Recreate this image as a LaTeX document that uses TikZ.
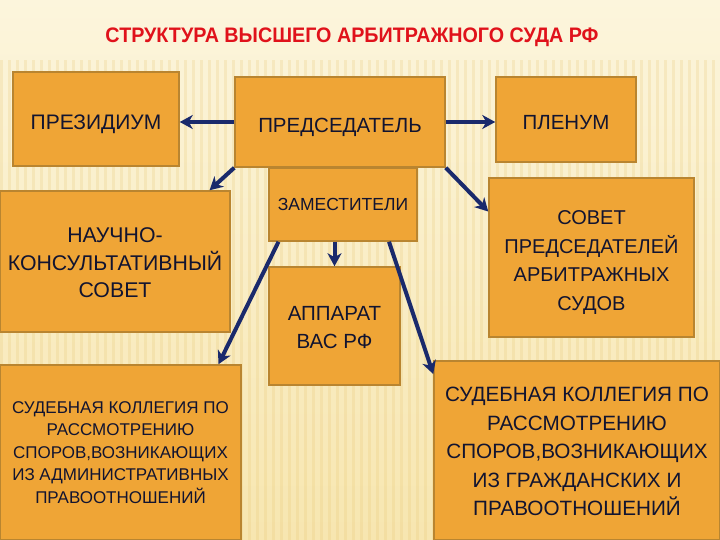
\documentclass[tikz,border=0pt]{standalone}
\usepackage{fontspec}
\setmainfont{Liberation Sans}
\usetikzlibrary{arrows.meta}
\definecolor{boxfill}{HTML}{EFA536}
\definecolor{boxline}{HTML}{B98530}
\definecolor{txt}{HTML}{121430}
\definecolor{arr}{HTML}{1A2A6C}
\definecolor{ttl}{HTML}{E0121B}
\definecolor{bgtop}{HTML}{FCF5DC}
\definecolor{bgbot}{HTML}{F7E6B0}
\definecolor{stripe}{HTML}{E6C46E}
\begin{document}
\begin{tikzpicture}[x=1pt,y=-1pt,
  box/.style={draw=boxline, line width=1.5pt, fill=boxfill, text=txt, align=center, inner sep=0pt},
  oneline/.style={text height=21pt, text depth=0pt},
  link/.style={draw=arr, line width=4pt, -{Stealth[length=13pt,width=14pt,inset=4pt]}}]
\useasboundingbox (0,0) rectangle (720,540);
\shade[top color=bgtop, bottom color=bgbot] (0,0) rectangle (720,540);
\foreach \i in {0,8,...,720} \fill[stripe, opacity=0.22] (\i,60) rectangle (\i+3,540);

\node[text=ttl, font=\bfseries\fontsize{21}{22}\selectfont] (title) at (352,37)
  {\resizebox{493pt}{\height}{СТРУКТУРА ВЫСШЕГО АРБИТРАЖНОГО СУДА РФ}};

\node[box, oneline, minimum width=166pt, minimum height=94pt, font=\fontsize{21}{24}\selectfont] (prez) at (96,119) {ПРЕЗИДИУМ};
\node[box, oneline, minimum width=210pt, minimum height=90pt, font=\fontsize{20.5}{24}\selectfont] (pred) at (340,122) {ПРЕДСЕДАТЕЛЬ};
\node[box, oneline, minimum width=140pt, minimum height=85pt, font=\fontsize{20.5}{24}\selectfont] (plen) at (566,119.5) {ПЛЕНУМ};
\node[box, minimum width=148pt, minimum height=73pt, font=\fontsize{17.5}{20}\selectfont] (zam) at (343,204.5) {ЗАМЕСТИТЕЛИ};
\node[box, minimum width=230pt, minimum height=141pt, font=\fontsize{21.3}{27.5}\selectfont] (nauch) at (115,261.5) {\rule{0pt}{18pt}НАУЧНО-\\КОНСУЛЬТАТИВНЫЙ\\СОВЕТ};
\node[box, minimum width=131pt, minimum height=118pt, font=\fontsize{20.5}{28}\selectfont] (app) at (334.5,326) {\rule{0pt}{18pt}АППАРАТ\\ВАС РФ};
\node[box, minimum width=205pt, minimum height=159pt, font=\fontsize{20}{28.6}\selectfont] (sovet) at (591.5,257.5) {\rule{0pt}{24pt}СОВЕТ\\ПРЕДСЕДАТЕЛЕЙ\\АРБИТРАЖНЫХ\\СУДОВ};
\node[box, minimum width=241pt, minimum height=175pt, font=\fontsize{17}{22.5}\selectfont] (sud1) at (120.5,452.5) {СУДЕБНАЯ КОЛЛЕГИЯ ПО\\РАССМОТРЕНИЮ\\СПОРОВ,ВОЗНИКАЮЩИХ\\ИЗ АДМИНИСТРАТИВНЫХ\\ПРАВООТНОШЕНИЙ};
\node[box, minimum width=286pt, minimum height=179pt, font=\fontsize{20.7}{28.5}\selectfont] (sud2) at (577,450.5) {\rule{0pt}{17pt}СУДЕБНАЯ КОЛЛЕГИЯ ПО\\РАССМОТРЕНИЮ\\СПОРОВ,ВОЗНИКАЮЩИХ\\ИЗ ГРАЖДАНСКИХ И\\ПРАВООТНОШЕНИЙ};

\draw[link] (pred.west) -- (pred.west -| prez.east);
\draw[link] (pred.east) -- (pred.east -| plen.west);
\draw[link] (pred.south west) -- (nauch.37);
\draw[link] (pred.south east) -- (sovet.156);
\draw[link] (zam.south -| app.north) -- (app.north);
\draw[link] (zam.210) -- (sud1.42);
\draw[link] (zam.321) -- (sud2.152);
\end{tikzpicture}
\end{document}
